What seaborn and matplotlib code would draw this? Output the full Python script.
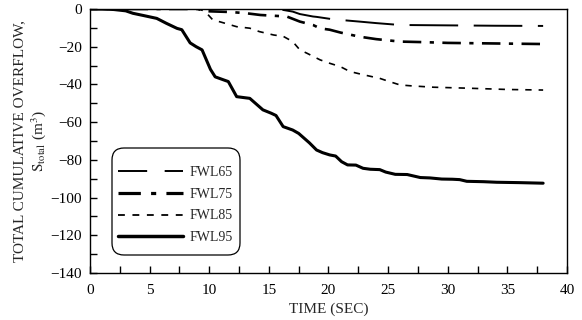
import matplotlib
matplotlib.use("Agg")
import matplotlib.pyplot as plt
import seaborn as sns
import pandas as pd
from matplotlib.ticker import MultipleLocator
from matplotlib.patches import FancyBboxPatch
from matplotlib.transforms import IdentityTransform

sns.set_theme(style="ticks")
plt.rcParams['font.family'] = ['Liberation Serif', 'DejaVu Serif']
plt.rcParams['mathtext.fontset'] = 'stix'

labels = ["FWL65", "FWL75", "FWL85", "FWL95"]

t65 = [0, 15, 16, 17, 17.6, 18.7, 19, 20.4, 22.6, 24, 26, 30, 34, 38]
v65 = [0, 0, -0.3, -1.4, -2.7, -4, -4.2, -5.5, -6.7, -7.5, -8.5, -8.7, -8.9, -9]

t75 = [0, 9, 9.8, 11.7, 13, 14.3, 16.5, 17.6, 18.7, 19.3, 20.1, 21, 22.6, 24, 26, 28, 30, 34, 38]
v75 = [0, 0, -1.2, -1.6, -2.2, -3.2, -4, -6.7, -8.5, -10.3, -11, -12.5, -14.7, -16, -17.3, -17.6, -18, -18.3, -18.6]

t85 = [0, 9, 9.6, 10.3, 11, 12.3, 13.4, 14.2, 15.4, 16.2, 17.0, 17.6, 18.2, 19.3, 20.1, 21, 21.8, 23, 24.3,
       25.1, 26, 27, 28.8, 31.6, 35, 38]
v85 = [0, 0, -1, -5.8, -7, -9.4, -10.2, -12, -13.8, -14.5, -17.3, -21.7, -23.5, -27, -28.8, -30.6, -33.2, -35,
       -36.8, -38.5, -40.3, -40.8, -41.5, -42, -42.7, -43]

t95 = [0, 1, 2, 3, 3.6, 4.5, 5.6, 6.4, 7.3, 7.7, 8.4, 8.9, 9.4, 10.1, 10.5, 11.2, 11.6, 12.3, 12.9, 13.4,
       14.5, 15.2, 15.6, 16.2, 17.0, 17.5, 18.4, 19.0, 19.5, 20.1, 20.6, 21.1, 21.6, 22.3, 22.9, 23.5, 24.3,
       24.8, 25.6, 26.6, 27.7, 28.5, 29.5, 30.4, 31.0, 31.6, 33, 34.1, 36, 38]
v95 = [0, 0, -0.3, -1, -2.3, -3.5, -5, -7.6, -10.3, -11, -18, -20, -21.7, -32, -36, -37.6, -38.5, -46.5, -47,
       -47.4, -53.5, -55.3, -56.5, -62.4, -64.2, -66, -71, -74.8, -76.2, -77.4, -78, -81, -82.7, -82.8, -84.5,
       -85, -85.2, -86.5, -87.7, -87.8, -89.4, -89.6, -90.2, -90.3, -90.5, -91.4, -91.6, -91.9, -92.1, -92.4]

frames = []
for lab, t, v in zip(labels, [t65, t75, t85, t95], [v65, v75, v85, v95]):
    frames.append(pd.DataFrame({"time": t, "S": v, "series": lab}))
df = pd.concat(frames, ignore_index=True)

fig = plt.figure(figsize=(5.82, 3.20), dpi=100)
ax = fig.add_axes([0.1546, 0.147, 0.8196, 0.825])

widths = [1.4, 1.9, 1.2, 2.2]
dashes = {"FWL65": (25, 8), "FWL75": (7, 3.2, 1.6, 3.2), "FWL85": (3.8, 4.2), "FWL95": ""}
sns.lineplot(data=df, x="time", y="S", hue="series", style="series", dashes=dashes,
             palette={l: "black" for l in labels}, sort=False, estimator=None, ax=ax, legend=True)
for line, lw in zip(ax.lines, widths):
    line.set_linewidth(lw)

ax.set_xlim(0, 40)
ax.set_ylim(-140, 0)
ax.xaxis.set_major_locator(MultipleLocator(5))
ax.xaxis.set_minor_locator(MultipleLocator(2.5))
ax.yaxis.set_major_locator(MultipleLocator(20))
ax.yaxis.set_minor_locator(MultipleLocator(10))
ax.tick_params(which="both", direction="in", length=5, width=1, colors="black", labelsize=11)
ax.tick_params(axis="x", which="major", pad=8)
ax.tick_params(axis="y", which="major", pad=6)
for s in ax.spines.values():
    s.set_linewidth(1)
    s.set_color("black")

ax.set_xlabel("TIME (SEC)", fontsize=11, labelpad=4)
ax.set_ylabel("TOTAL CUMULATIVE OVERFLOW,\n$\\mathrm{S_{total}}$ (m$^3$)", fontsize=11, linespacing=1.15)
ax.yaxis.set_label_coords(-0.089, 0.5)

# rounded legend frame
box = FancyBboxPatch((112, 320 - 255), 128, 107, boxstyle="round,pad=0,rounding_size=12",
                     transform=IdentityTransform(), facecolor="white", edgecolor="black",
                     linewidth=0.9, zorder=4, clip_on=False)
ax.add_patch(box)

leg = ax.legend(loc="upper left", bbox_to_anchor=((118 - 90) / 477, (273 - 166) / 264), fontsize=10,
                frameon=False, handlelength=4.7, labelspacing=0.63,
                borderpad=0, handletextpad=0.45, borderaxespad=0)
leg.set_zorder(5)
handles = leg.get_lines()
for h, lw in zip(handles, [1.4, 2.3, 1.3, 2.5]):
    h.set_linewidth(lw)
handles[0].set_linestyle((0, (15, 9)))

fig.savefig("out.png", dpi=100)
